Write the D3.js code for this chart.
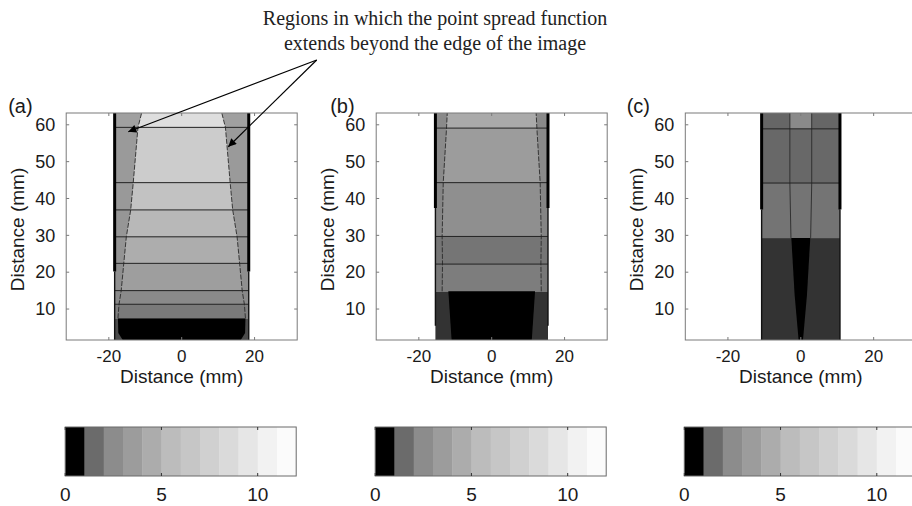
<!DOCTYPE html>
<html><head><meta charset="utf-8">
<script src="https://cdn.jsdelivr.net/npm/d3@7"></script>
<style>body{margin:0;background:#fff} svg{display:block}</style>
</head><body><svg id="c" width="912" height="506"></svg>
<script>
// ---------- data ----------
const xTicks = [-20, 0, 20];
const yTicks = [10, 20, 30, 40, 50, 60];
const cbTicks = [0, 5, 10];
const cbLevels = [0,1,2,3,4,5,6,7,8,9,10,11];
const colormapGrays = [0,107,140,156,172,188,198,208,218,230,242,251];
const panelLabels = ["(a)", "(b)", "(c)"];
const annotationLines = ["Regions in which the point spread function", "extends beyond the edge of the image"];
const xDomain = [-31.7, 31.7];
const yDomain = [1.6, 63.2];
const cbDomain = [0, 12];

// panel (a)
const aEdges = [1.6, 7.5, 11.3, 15.0, 22.4, 29.6, 36.9, 44.3, 59.3, 63.2];
const aInner = [0.5, 1.95, 2.44, 3.62, 4.56, 5.25, 6.1, 7.1, 8.83];
const aOuter = [1.2, 2.1, 2.4, 2.7, 3.0, 3.1, 3.3, 3.4, 3.75];
const aBoundary = [[1.6,16.2],[3.5,17.4],[7.5,17.5],[11.3,17.2],[15,16.6],[22.4,15.9],[29.6,15.2],[36.9,14.0],[44.3,13.3],[59.3,12.0],[63.2,11.0]];
const aDashFrom = 7.5;
const aLines = [11.3, 15.0, 22.4, 29.6, 36.9, 44.3, 59.3];
const aCore = [];
const aEdge = {hw: 18.4, thickFrom: 20.2, thinFrom: 1.6};

// panel (b)
const bEdges = [1.6, 14.8, 22.2, 29.7, 44.3, 59.1, 63.2];
const bInner = [null, 2.05, 1.8, 2.7, 3.5, 4.4];
const bOuter = [0.98, 1.9, 1.8, 2.3, 2.45, 2.45];
const bBoundary = [[14.8,13.6],[22.2,13.5],[29.7,13.6],[44.3,13.3],[59.1,12.4],[63.2,12.2]];
const bDashFrom = 14.8;
const bLines = [22.2, 29.7, 44.3, 59.1];
const bCore = [[1.6,11.0],[14.8,11.9]];
const bEdge = {hw: 15.45, thickFrom: 37.4, thinFrom: 5.5};

// panel (c)
const cEdges = [1.6, 29.3, 44.2, 58.9, 63.2];
const cInner = [null, 1.77, 1.47, 2.44];
const cOuter = [0.98, 1.77, 1.47, 1.45];
const cBoundary = [[29.3,2.7],[44.2,3.0],[63.2,3.0]];
const cDashFrom = 29.3;
const cLines = [44.2, 58.9];
const cCore = [[1.6,0.6],[13.9,1.7],[29.3,2.6]];
const cEdge = {hw: 10.75, thickFrom: 37.0, thinFrom: 1.6};

// ---------- layout ----------
const panels = [
  {edges:aEdges, inner:aInner, outer:aOuter, boundary:aBoundary, dashFrom:aDashFrom, lines:aLines, core:aCore, edge:aEdge, dashed:true},
  {edges:bEdges, inner:bInner, outer:bOuter, boundary:bBoundary, dashFrom:bDashFrom, lines:bLines, core:bCore, edge:bEdge, dashed:true},
  {edges:cEdges, inner:cInner, outer:cOuter, boundary:cBoundary, dashFrom:cDashFrom, lines:cLines, core:cCore, edge:cEdge, dashed:false}
];
const lefts = [66.2, 376.2, 685.3];
const labelDx = [-58, -46, -58.6];
const axTop = 113, axH = 227, axW = 231;
const cbTop = 427, cbH = 49;
const sansFont = "'Liberation Sans', Arial, sans-serif";
const textCol = "#1a1a1a";

const svg = d3.select("#c");
const gray = d3.scaleLinear()
  .domain(colormapGrays.map((g,i)=>i+0.5))
  .range(colormapGrays).clamp(true);
const col = v => { const g = Math.round(gray(v)); return `rgb(${g},${g},${g})`; };
const cbCol = i => { const g = colormapGrays[i]; return `rgb(${g},${g},${g})`; };

function hwAt(pts, y) {
  if (y <= pts[0][0]) return pts[0][1];
  for (let i = 1; i < pts.length; i++) {
    if (y <= pts[i][0]) {
      const t = (y - pts[i-1][0]) / (pts[i][0] - pts[i-1][0]);
      return pts[i-1][1] + t * (pts[i][1] - pts[i-1][1]);
    }
  }
  return pts[pts.length-1][1];
}
function sidePts(pts, y0, y1) {
  const out = [[y0, hwAt(pts, y0)]];
  pts.forEach(p => { if (p[0] > y0 && p[0] < y1) out.push(p); });
  out.push([y1, hwAt(pts, y1)]);
  return out;
}

panels.forEach((p, pi) => {
  const L = lefts[pi];
  const x = d3.scaleLinear().domain(xDomain).range([L, L + axW]);
  const y = d3.scaleLinear().domain(yDomain).range([axTop + axH, axTop]);
  const g = svg.append("g");
  const clipId = "clip" + pi;
  svg.append("clipPath").attr("id", clipId).append("rect")
    .attr("x", L).attr("y", axTop).attr("width", axW).attr("height", axH);
  const gc = g.append("g").attr("clip-path", `url(#${clipId})`);
  const line = d3.line().x(d => x(d[0])).y(d => y(d[1]));

  p.outer.forEach((v, i) => {
    const y0 = p.edges[i], y1 = p.edges[i+1];
    gc.append("rect")
      .attr("x", x(-p.edge.hw)).attr("width", x(p.edge.hw) - x(-p.edge.hw))
      .attr("y", y(y1)).attr("height", y(y0) - y(y1) + 0.3)
      .attr("fill", col(v));
  });
  p.inner.forEach((v, i) => {
    if (v === null) return;
    const y0 = p.edges[i], y1 = p.edges[i+1];
    const s = sidePts(p.boundary, y0, y1);
    const poly = s.map(d => [-d[1], d[0]]).concat(s.slice().reverse().map(d => [d[1], d[0]]));
    gc.append("path").attr("d", line(poly) + "Z").attr("fill", col(v));
  });
  if (p.core.length) {
    const poly = p.core.map(d => [-d[1], d[0]]).concat(p.core.slice().reverse().map(d => [d[1], d[0]]));
    gc.append("path").attr("d", line(poly) + "Z").attr("fill", col(0));
  }
  const bpts = sidePts(p.boundary, p.dashFrom, yDomain[1]);
  [-1, 1].forEach(sg => {
    gc.append("path").attr("d", line(bpts.map(d => [sg * d[1], d[0]])))
      .attr("fill", "none").attr("stroke", "#2a2a2a").attr("stroke-width", 0.9)
      .attr("stroke-dasharray", p.dashed ? "5,1.5" : null);
  });
  p.lines.forEach(v => {
    gc.append("line").attr("x1", x(-p.edge.hw)).attr("x2", x(p.edge.hw))
      .attr("y1", y(v)).attr("y2", y(v)).attr("stroke", "#222").attr("stroke-width", 1);
  });
  [-1, 1].forEach(sg => {
    gc.append("line").attr("x1", x(sg * p.edge.hw)).attr("x2", x(sg * p.edge.hw))
      .attr("y1", y(p.edge.thinFrom)).attr("y2", y(p.edge.thickFrom))
      .attr("stroke", "#111").attr("stroke-width", 1.4);
    gc.append("line").attr("x1", x(sg * p.edge.hw)).attr("x2", x(sg * p.edge.hw))
      .attr("y1", y(p.edge.thickFrom)).attr("y2", y(yDomain[1]))
      .attr("stroke", "#000").attr("stroke-width", 3);
  });

  g.append("rect").attr("x", L).attr("y", axTop).attr("width", axW).attr("height", axH)
    .attr("fill", "none").attr("stroke", "#7a7a7a").attr("stroke-width", 1);
  xTicks.forEach(t => {
    g.append("line").attr("x1", x(t)).attr("x2", x(t)).attr("y1", axTop + axH).attr("y2", axTop + axH - 3).attr("stroke", "#7a7a7a");
    g.append("line").attr("x1", x(t)).attr("x2", x(t)).attr("y1", axTop).attr("y2", axTop + 3).attr("stroke", "#7a7a7a");
    g.append("text").attr("x", x(t)).attr("y", axTop + axH + 21.5).attr("text-anchor", "middle")
      .attr("font-family", sansFont).attr("font-size", 17).attr("fill", textCol).text(t);
  });
  yTicks.forEach(t => {
    g.append("line").attr("x1", L).attr("x2", L + 3).attr("y1", y(t)).attr("y2", y(t)).attr("stroke", "#7a7a7a");
    g.append("line").attr("x1", L + axW).attr("x2", L + axW - 3).attr("y1", y(t)).attr("y2", y(t)).attr("stroke", "#7a7a7a");
    g.append("text").attr("x", L - 11).attr("y", y(t) + 6.3).attr("text-anchor", "end")
      .attr("font-family", sansFont).attr("font-size", 18).attr("fill", textCol).text(t);
  });
  g.append("text").attr("x", L + axW / 2).attr("y", axTop + axH + 42.5).attr("text-anchor", "middle")
    .attr("font-family", sansFont).attr("font-size", 19).attr("fill", textCol).text("Distance (mm)");
  g.append("text").attr("transform", `translate(${L - 42},${axTop + axH / 2 + 3}) rotate(-90)`)
    .attr("text-anchor", "middle").attr("font-family", sansFont).attr("font-size", 19).attr("fill", textCol).text("Distance (mm)");
  g.append("text").attr("x", L + labelDx[pi]).attr("y", axTop)
    .attr("font-family", sansFont).attr("font-size", 20).attr("fill", textCol).text(panelLabels[pi]);

  const cx = d3.scaleLinear().domain(cbDomain).range([L - 1, L - 1 + axW]);
  cbLevels.forEach(i => {
    g.append("rect").attr("x", cx(i)).attr("width", cx(i + 1) - cx(i) + 0.4)
      .attr("y", cbTop).attr("height", cbH).attr("fill", cbCol(i));
  });
  g.append("rect").attr("x", cx(0)).attr("y", cbTop).attr("width", cx(12) - cx(0)).attr("height", cbH)
    .attr("fill", "none").attr("stroke", "#6a6a6a").attr("stroke-width", 1);
  cbTicks.forEach(t => {
    g.append("line").attr("x1", cx(t)).attr("x2", cx(t)).attr("y1", cbTop).attr("y2", cbTop + 3).attr("stroke", "#333");
    g.append("line").attr("x1", cx(t)).attr("x2", cx(t)).attr("y1", cbTop + cbH).attr("y2", cbTop + cbH - 3).attr("stroke", "#333");
    g.append("text").attr("x", cx(t)).attr("y", cbTop + cbH + 25).attr("text-anchor", "middle")
      .attr("font-family", sansFont).attr("font-size", 19).attr("fill", textCol).text(t);
  });
});

const defs = svg.append("defs");
defs.append("marker").attr("id", "ah").attr("viewBox", "0 0 10 10").attr("refX", 10).attr("refY", 5)
  .attr("markerWidth", 12).attr("markerHeight", 8).attr("markerUnits", "userSpaceOnUse").attr("orient", "auto")
  .append("path").attr("d", "M0,0L10,5L0,10Z").attr("fill", "#000");
annotationLines.forEach((t, i) => {
  svg.append("text").attr("x", 435).attr("y", 25 + i * 25).attr("text-anchor", "middle")
    .attr("font-family", "'Liberation Serif', 'Times New Roman', serif").attr("font-size", 20)
    .attr("fill", "#222").text(t);
});
const arrowStart = [316.7, 60];
[[128.3, 131.7], [228.3, 146.7]].forEach(e => {
  svg.append("line").attr("x1", arrowStart[0]).attr("y1", arrowStart[1]).attr("x2", e[0]).attr("y2", e[1])
    .attr("stroke", "#000").attr("stroke-width", 1.2).attr("marker-end", "url(#ah)");
});
</script></body></html>
